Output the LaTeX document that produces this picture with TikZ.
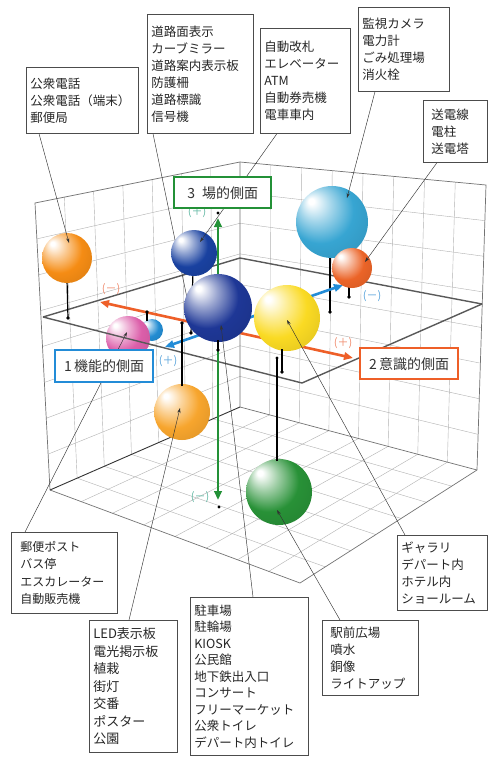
\documentclass[tikz,border=0pt]{standalone}
\usepackage{fontspec}
\setmainfont{Noto Sans CJK JP}
\usetikzlibrary{calc,arrows.meta}
\definecolor{axgreen}{RGB}{35,145,55}
\definecolor{axorange}{RGB}{238,95,40}
\definecolor{axblue}{RGB}{35,140,215}
\definecolor{sorange}{RGB}{245,140,20}
\definecolor{sdblue}{RGB}{25,65,160}
\definecolor{sbblue}{RGB}{30,55,150}
\definecolor{syellow}{RGB}{250,218,35}
\definecolor{scyan}{RGB}{55,165,210}
\definecolor{sored}{RGB}{235,100,40}
\definecolor{spink}{RGB}{220,95,170}
\definecolor{slblue}{RGB}{35,140,210}
\definecolor{slorange}{RGB}{247,165,45}
\definecolor{sgreen}{RGB}{40,145,55}
\definecolor{sgnteal}{RGB}{100,185,165}
\definecolor{sgnorange}{RGB}{240,140,110}
\definecolor{sgnblue}{RGB}{90,165,220}
\colorlet{spherecol}{orange}
\pgfdeclareradialshading[spherecol]{sphere}{\pgfqpoint{-15bp}{15bp}}{%
 color(0bp)=(white); color(2bp)=(white); color(11bp)=(spherecol!45!white);
 color(23bp)=(spherecol); color(40bp)=(spherecol!88!black); color(50bp)=(spherecol!72!black)}
\pgfdeclarelayer{front}
\pgfsetlayers{main,front}
\begin{document}
\begin{tikzpicture}[x=1pt,y=-1pt,
 gridl/.style={draw=black!30, line width=0.4pt},
 edgel/.style={draw=black!55, line width=0.7pt},
 edged/.style={draw=black!80, line width=0.9pt},
 midl/.style={draw=black!65, line width=1.4pt, line join=round},
 stem/.style={draw=black, line width=1.2pt},
 leader/.style={draw=black!80, line width=0.45pt, -{Stealth[length=5pt,width=3.2pt]}},
 plainleader/.style={draw=black!80, line width=0.45pt},
 sph/.style={circle, inner sep=0pt, minimum size=#1, shade, shading=sphere},
 sc/.code={\colorlet{spherecol}{#1}},
 lbox/.style={draw=black!70, line width=0.6pt, fill=white, anchor=north west, align=left, inner xsep=4pt, inner ysep=3pt, text=black!85, font=\fontsize{12.5}{17}\selectfont},
 abox/.style={draw=#1, line width=2.4pt, fill=white, anchor=north west, inner sep=0pt, text=black!80, font=\fontsize{14}{14}\selectfont},
 axarrow/.style={line width=2.6pt, draw=#1, {Triangle[length=9pt,width=7.5pt]}-{Triangle[length=9pt,width=7.5pt]}},
 sgn/.style={text=#1, font=\fontsize{11}{11}\selectfont, inner sep=0pt}
]
\useasboundingbox (0,0) rectangle (489,758);
\fill[white] (0,0) rectangle (489,758);

% ---------- boxes (front layer) ----------
\begin{pgfonlayer}{front}
\node[lbox, text width=104pt, minimum height=66pt] (b1) at (26,67) {公衆電話\\公衆電話（端末）\\郵便局};
\node[lbox, text width=98pt, minimum height=119pt] (b2) at (147,14) {道路面表示\\カーブミラー\\道路案内表示板\\防護柵\\道路標識\\信号機};
\node[lbox, text width=82pt, minimum height=105pt] (b3) at (260,28) {自動改札\\エレベーター\\ATM\\自動券売機\\電車車内};
\node[lbox, text width=83pt, minimum height=84pt] (b4) at (358,7) {監視カメラ\\電力計\\ごみ処理場\\消火栓};
\node[lbox, inner xsep=8pt, text width=48pt, minimum height=62pt] (b5) at (423,100) {送電線\\電柱\\送電塔};
\node[lbox, inner xsep=9pt, text width=88pt, minimum height=81pt, font=\fontsize{12}{17.5}\selectfont] (b6) at (11,532) {郵便ポスト\\バス停\\エスカレーター\\自動販売機};
\node[lbox, text width=80pt, minimum height=132pt, font=\fontsize{13}{17.5}\selectfont] (b7) at (89,620) {LED表示板\\電光掲示板\\植栽\\街灯\\交番\\ポスター\\公園};
\node[lbox, text width=110pt, minimum height=158pt, font=\fontsize{12.5}{16.5}\selectfont] (b8) at (190,597) {駐車場\\駐輪場\\KIOSK\\公民館\\地下鉄出入口\\コンサート\\フリーマーケット\\公衆トイレ\\デパート内トイレ};
\node[lbox, inner xsep=8pt, text width=80pt, minimum height=75pt] (b9) at (322,620) {駅前広場\\噴水\\銅像\\ライトアップ};
\node[lbox, text width=82pt, minimum height=75pt] (b10) at (397,535) {ギャラリ\\デパート内\\ホテル内\\ショールーム};
\node[abox=axgreen, minimum width=97pt, minimum height=31pt] (l3) at (173,176) {3\enspace 場的側面};
\node[abox=axblue, minimum width=98pt, minimum height=32pt] (l1) at (54,349) {1\,機能的側面};
\node[abox=axorange, minimum width=98pt, minimum height=31pt] (l2) at (359,347) {2\,意識的側面};
\end{pgfonlayer}

% ---------- cube grid ----------
\coordinate (BB) at (240,407);
\coordinate (BT) at (240,162);
\coordinate (LT) at (35,203);
\coordinate (LB) at (50,490);
\coordinate (RT) at (486,185);
\coordinate (RB) at (477,470);
\coordinate (FF) at (300,583);
\foreach \i in {1,...,6} {
  \draw[gridl] ($(BB)!\i/7!(LB)$) -- ($(BT)!\i/7!(LT)$);
  \draw[gridl] ($(BB)!\i/7!(LB)$) -- ($(RB)!\i/7!(FF)$);
}
\foreach \i in {1,...,7} {
  \draw[gridl] ($(BB)!\i/8!(RB)$) -- ($(BT)!\i/8!(RT)$);
  \draw[gridl] ($(BB)!\i/8!(RB)$) -- ($(LB)!\i/8!(FF)$);
  \draw[gridl] ($(BB)!\i/8!(BT)$) -- ($(LB)!\i/8!(LT)$);
  \draw[gridl] ($(BB)!\i/8!(BT)$) -- ($(RB)!\i/8!(RT)$);
}
\draw[edgel] (LB) -- (LT) -- (BT) -- (RT) -- (RB);
\draw[edgel] (BT) -- (BB) -- (RB);
\draw[edgel] (LB) -- (FF) -- (RB);
\draw[edged] (LB) -- (BB);

% ---------- mid plane (back) ----------
\coordinate (ML) at (43,317);
\coordinate (MB) at (240,258);
\coordinate (MR) at (482,304);
\coordinate (MF) at (302,383);
\draw[midl] (ML) -- (MB) -- (MR);

% ---------- leader hidden behind big sphere ----------
\draw[plainleader] ([xshift=6pt]b2.south west) -- (192,322);

% ---------- stems of upper spheres ----------
\draw[stem] (67,280) -- (68,318); \fill (68,318) circle[radius=1.8pt];
\draw[stem] (193,272) -- (191,333); \fill (191,333) circle[radius=1.8pt];
\draw[stem] (330,255) -- (330,312); \fill (330,312) circle[radius=1.8pt];
\draw[stem] (349,285) -- (349,297); \fill (349,297) circle[radius=1.8pt];

% ---------- spheres below the plane (behind front edge) ----------
\node[sph=22pt, sc=slblue] (s8) at (152,330) {};
\node[sph=44pt, sc=spink] (s7) at (128,338) {};
\draw[midl] (ML) -- (MF) -- (MR);

% ---------- axes ----------
\coordinate (Gt) at (218,218); \coordinate (Gb) at (218,500);
\coordinate (Ol) at (100,302); \coordinate (Or) at (353,358);
\coordinate (Bl) at (165,347); \coordinate (Br) at (343,285);
\draw[axarrow=axorange] (Ol) -- (Or);
\draw[axarrow=axblue] (Bl) -- (Br);
\draw[axarrow=axgreen] (Gb) -- (Gt);
\fill (218,213) circle[radius=1.6pt];
\fill (219,507) circle[radius=1.6pt];

% ---------- spheres ----------
\node[sph=50pt, sc=sorange] (s1) at (67,258) {};
\node[sph=46pt, sc=sdblue] (s2) at (194,253) {};
\node[sph=72pt, sc=scyan] (s5) at (332,222) {};
\node[sph=40pt, sc=sored] (s6) at (352,268) {};
\node[sph=68pt, sc=sbblue] (s3) at (218,308) {};
\node[sph=66pt, sc=syellow] (s4) at (287,318) {};
\node[sph=56pt, sc=slorange] (s9) at (182,412) {};
\node[sph=66pt, sc=sgreen] (s10) at (279,492) {};

% ---------- remaining stems ----------
\draw[stem] (218,340) -- (218,350); \fill (218,350) circle[radius=1.8pt];
\draw[stem] (282,349) -- (282,372); \fill (282,372) circle[radius=1.8pt];
\draw[stem] (147,321) -- (147,312); \fill (147,312) circle[radius=1.8pt];
\draw[stem] (182,386) -- (182,323); \fill (182,323) circle[radius=1.8pt];
\draw[stem] (277,461) -- (277,358); \fill (277,358) circle[radius=1.6pt];

% ---------- leaders ----------
\coordinate (t1) at (69,243);
\coordinate (t2) at (200,242);
\coordinate (t3) at (221,325);
\coordinate (t4) at (287,320);
\coordinate (t5) at (347,198);
\coordinate (t6) at (365,262);
\coordinate (t7) at (127,332);
\coordinate (t9) at (180,408);
\coordinate (t10) at (277,510);
\draw[leader] ([xshift=13pt]b1.south west) -- (t1);
\draw[leader] ([xshift=17pt]b3.south west) -- (t2);
\draw[leader] ([xshift=17pt]b4.south west) -- (t5);
\draw[leader] ([xshift=14pt]b5.south west) -- (t6);
\draw[leader] ([xshift=14pt]b6.north west) -- (t7);
\draw[leader] ([xshift=40pt]b7.north west) -- (t9);
\draw[leader] ([xshift=63pt]b8.north west) -- (t3);
\draw[leader] ([xshift=18pt]b9.north west) -- (t10);
\draw[leader] ([xshift=8pt]b10.north west) -- (t4);

% ---------- sign labels ----------
\node[sgn=sgnteal] (p1) at (197,212) {(＋)};
\node[sgn=sgnteal] (p2) at (200,497) {(－)};
\node[sgn=sgnorange] (p3) at (111,289) {(－)};
\node[sgn=sgnorange] (p4) at (343,343) {(＋)};
\node[sgn=sgnblue] (p5) at (168,361) {(＋)};
\node[sgn=sgnblue] (p6) at (372,296) {(－)};
\end{tikzpicture}
\end{document}
